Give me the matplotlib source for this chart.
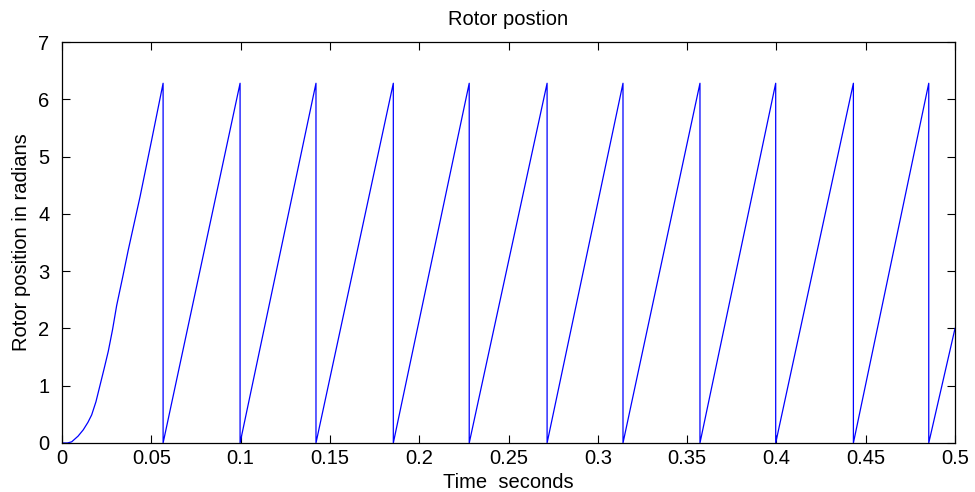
import numpy as np
import matplotlib
matplotlib.use("Agg")
import matplotlib.pyplot as plt

plt.rcParams['font.family'] = ['Liberation Sans', 'DejaVu Sans']

# start-up ramp (time s, position rad)
start_t = [0.0, 0.0030, 0.0054, 0.0090, 0.0119, 0.0145, 0.0166, 0.0190, 0.0213,
           0.0236, 0.0259, 0.0283, 0.0306, 0.0340, 0.0371, 0.0437, 0.0502, 0.0566]
start_y = [0.0, 0.0, 0.02, 0.12, 0.23, 0.36, 0.49, 0.72, 1.01,
           1.30, 1.60, 1.98, 2.40, 2.90, 3.37, 4.30, 5.29, 6.28]

# times where the position wraps from 2*pi back to 0
reset_t = [0.0566, 0.0997, 0.1422, 0.1855, 0.2280, 0.2716, 0.3141,
           0.3572, 0.3996, 0.4431, 0.4853]
peak = 6.28
end_t = 0.5
end_y = 2.0

# build the polyline from the read vertices
t = list(start_t)
y = list(start_y)
for i, rt in enumerate(reset_t):
    if i > 0:
        t.append(rt)
        y.append(peak)
    t.append(rt)
    y.append(0.0)
t.append(end_t)
y.append(end_y)

fig = plt.figure(figsize=(9.75, 4.92), dpi=100)
ax = fig.add_axes([0.0636, 0.0996, 0.9159, 0.815])
ax.plot(t, y, color='#0000ff', linewidth=0.9)

ax.set_xlim(0, 0.5)
ax.set_ylim(0, 7)
ax.set_xticks(np.arange(0, 0.51, 0.05))
ax.set_xticklabels(['0', '0.05', '0.1', '0.15', '0.2', '0.25', '0.3', '0.35', '0.4', '0.45', '0.5'])
ax.set_yticks(range(0, 8))
ax.tick_params(direction='in', length=6, width=0.8, top=True, right=True, labelsize=14.5)
ax.tick_params(axis='x', pad=4)
ax.tick_params(axis='y', pad=9)
for s in ax.spines.values():
    s.set_linewidth(0.9)

ax.set_title('Rotor postion', fontsize=14.5, pad=12)
ax.set_xlabel('Time  seconds', fontsize=14.5, labelpad=4)
ax.set_ylabel('Rotor position in radians', fontsize=14.5, labelpad=5)

fig.savefig('out.png', dpi=100, facecolor='white')
